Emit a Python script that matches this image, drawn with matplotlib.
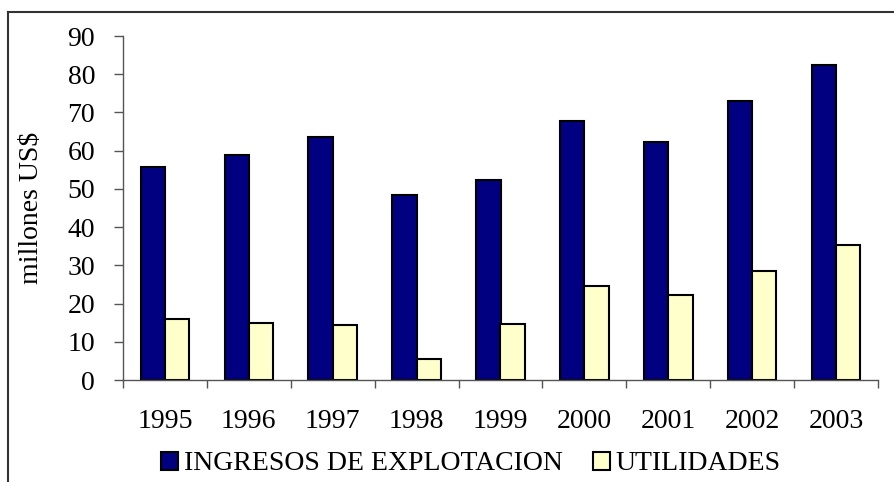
import numpy as np
import matplotlib.pyplot as plt
from matplotlib.lines import Line2D
from matplotlib.patches import Patch

years = ["1995", "1996", "1997", "1998", "1999", "2000", "2001", "2002", "2003"]
ingresos = [55.6, 58.9, 63.5, 48.3, 52.3, 67.8, 62.3, 73.0, 82.4]
utilidades = [16.0, 14.9, 14.4, 5.4, 14.7, 24.7, 22.2, 28.6, 35.3]

plt.rcParams["font.family"] = ["Liberation Serif", "DejaVu Serif"]
fs = 20

fig = plt.figure(figsize=(8.95, 4.82), dpi=100)
ax = fig.add_axes([123 / 895, 1 - 380 / 482, 755 / 895, 344 / 482])

x = np.arange(len(years))
w = 0.29
ax.bar(x - w / 2, ingresos, w, color="#000080", edgecolor="black", linewidth=1.5)
ax.bar(x + w / 2, utilidades, w, color="#FFFFCC", edgecolor="black", linewidth=1.5)

ax.set_xlim(-0.5, len(years) - 0.5)
ax.set_ylim(0, 90)
ax.set_yticks(range(0, 91, 10))
ax.set_xticks(x)
ax.set_xticklabels(years)
ax.set_xticks(np.arange(-0.5, len(years), 1), minor=True)
ax.tick_params(axis="x", which="major", length=0, pad=21, labelsize=fs)
ax.tick_params(axis="x", which="minor", length=6, width=1, color="#555555")
ax.tick_params(axis="y", length=6.5, width=1, color="#555555", labelsize=fs, pad=13.5)
for s in ["top", "right"]:
    ax.spines[s].set_visible(False)
for s in ["left", "bottom"]:
    ax.spines[s].set_color("#555555")
    ax.spines[s].set_linewidth(1)
ax.set_ylabel("millones US$", fontsize=fs, labelpad=17)

handles = [Patch(facecolor="#000080", edgecolor="black", linewidth=1.5),
           Patch(facecolor="#FFFFCC", edgecolor="black", linewidth=1.5)]
fig.legend(handles, ["INGRESOS DE EXPLOTACION", "UTILIDADES"], loc="center",
           bbox_to_anchor=(471 / 895, 1 - 464 / 482), ncol=2, frameon=False,
           fontsize=fs, handlelength=0.6, handleheight=0.6, handletextpad=0.2,
           columnspacing=1.1, borderpad=0)

# outer frame (top and left edges)
fig.add_artist(Line2D([8 / 895, 1], [1 - 12 / 482, 1 - 12 / 482], color="#333333", lw=1.5))
fig.add_artist(Line2D([8 / 895, 8 / 895], [0, 1 - 12 / 482], color="#333333", lw=1.5))

fig.savefig("out.png", dpi=100)
